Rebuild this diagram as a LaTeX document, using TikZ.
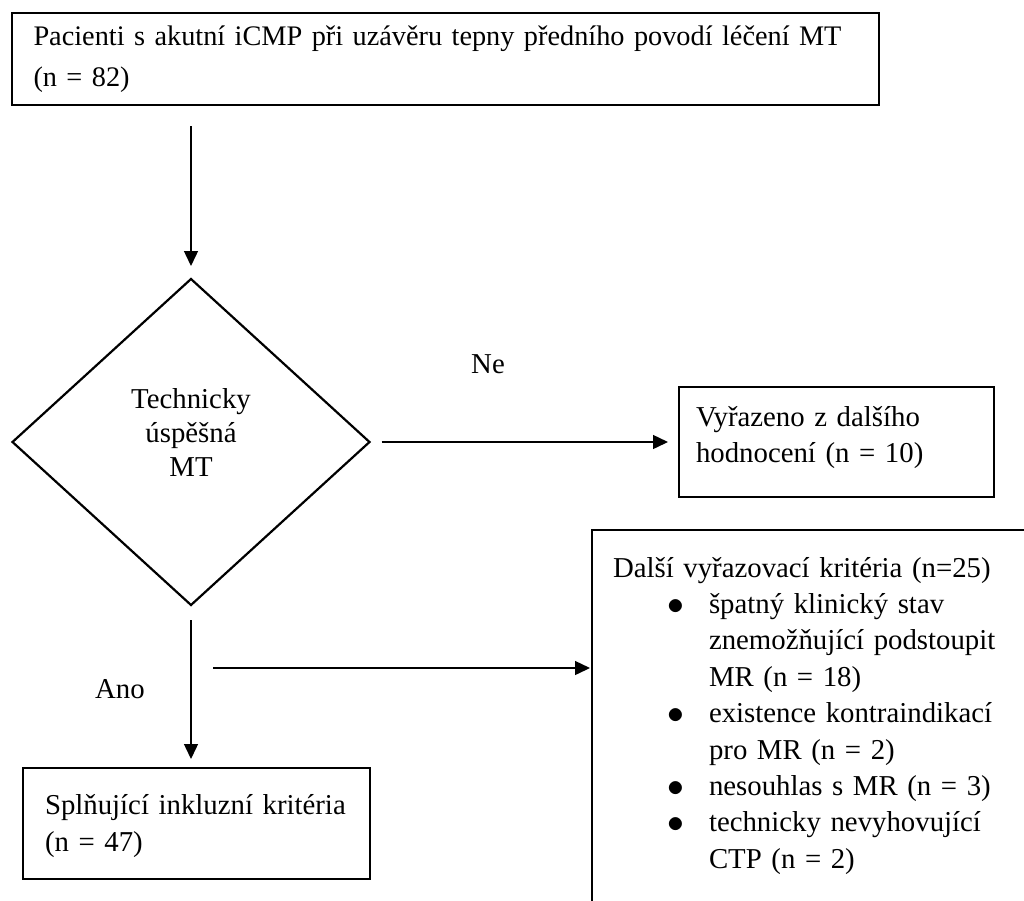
\documentclass[tikz,border=0pt]{standalone}
\usepackage{fontspec}
\setmainfont{Liberation Serif}
\usetikzlibrary{shapes.geometric,arrows.meta}
\newcommand\flowfont[1][36.5]{\fontsize{28.8}{#1}\selectfont}
\newcommand\itemdot{\makebox[42pt][l]{\raisebox{-1pt}{\scalebox{1.35}{$\bullet$}}}}

\begin{document}
\begin{tikzpicture}[x=1pt,y=-1pt,
    box/.style={draw,line width=2.4pt,outer sep=0pt,anchor=north west,inner xsep=21pt,align=left,font=\flowfont},
    decision/.style={draw,diamond,line width=2.2pt,outer sep=0pt,inner sep=0pt,align=center,font={\flowfont[34]}},
    flow/.style={line width=1.4pt,-{Triangle[length=15pt,width=14pt]}},
    tag/.style={anchor=base,font=\flowfont}]
      \useasboundingbox (0,0) rectangle (1024,900);
      \clip (0,0) rectangle (1024,900);
      \draw
        (12,13) node[box,inner xsep=21.5pt,text width=824pt,minimum height=92pt,font={\fontsize{28.3}{41}\selectfont}] (pat){Pacienti s akutní iCMP při uzávěru tepny předního povodí léčení MT\\(n = 82)}
        (191,442) node[decision,minimum width=357pt,minimum height=326pt] (mt){Technicky\\úspěšná\\MT\rule[-20pt]{0pt}{20pt}}
        (679,387) node[box,inner xsep=17pt,text width=281pt,minimum height=110pt] (out){Vyřazeno z dalšího\\hodnocení (n = 10)\rule[-15pt]{0pt}{15pt}}
        (23,768) node[box,inner xsep=22pt,text width=303pt,minimum height=111pt] (incl){\rule{0pt}{25pt}Splňující inkluzní kritéria\\(n = 47)}
        (592,530) node[box,inner ysep=27pt,text width=450pt,font={\flowfont[36.4]}] (excl){Další vyřazovací kritéria (n=25)\\
          \hspace*{54pt}\itemdot špatný klinický stav\\
          \hspace*{96pt}znemožňující podstoupit\\
          \hspace*{96pt}MR (n = 18)\\
          \hspace*{54pt}\itemdot existence kontraindikací\\
          \hspace*{96pt}pro MR (n = 2)\\
          \hspace*{54pt}\itemdot nesouhlas s MR (n = 3)\\
          \hspace*{54pt}\itemdot technicky nevyhovující\\
          \hspace*{96pt}CTP (n = 2)\rule[-30pt]{0pt}{30pt}}
        (488,373) node[tag] (ne){Ne}
        (120,698) node[tag] (ano){Ano};
      \coordinate (split) at (213,668);
      \begin{scope}[flow]
        \draw[shorten <=21pt,shorten >=13pt] (pat.south -| mt.north) -- (mt.north);
        \draw[shorten <=12pt,shorten >=11pt] (mt.east) -- (mt.east -| out.west);
        \draw[shorten <=15pt,shorten >=9pt] (mt.south) -- (mt.south |- incl.north);
        \draw[shorten >=2pt] (split) -- (split -| excl.west);
      \end{scope}
    \end{tikzpicture}
\end{document}
